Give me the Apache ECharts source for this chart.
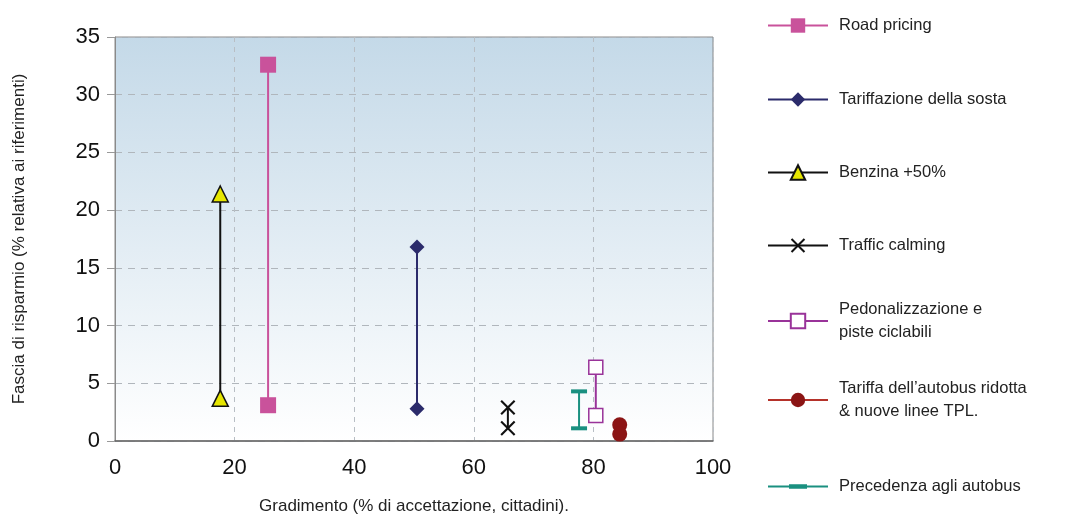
<!DOCTYPE html>
<html>
<head>
<meta charset="utf-8">
<script src="https://cdn.jsdelivr.net/npm/echarts@6/dist/echarts.min.js"></script>
<style>html,body{margin:0;padding:0;background:#fff;}#c{width:1067px;height:519px;}</style>
</head>
<body>
<div id="c"></div>
<script>
// Data (x = gradimento %, y = fascia di risparmio %)
const seriesNames = [
  'Road pricing',
  'Tariffazione della sosta',
  'Benzina +50%',
  'Traffic calming',
  'Pedonalizzazione e piste ciclabili',
  "Tariffa dell\u2019autobus ridotta & nuove linee TPL.",
  'Precedenza agli autobus'
];
const roadPricing = [[25.6, 32.6], [25.6, 3.1]];
const tariffazioneSosta = [[50.5, 16.8], [50.5, 2.8]];
const benzina = [[17.6, 21.4], [17.6, 3.7]];
const trafficCalming = [[65.7, 2.9], [65.7, 1.1]];
const pedonalizzazione = [[80.4, 6.4], [80.4, 2.2]];
const tariffaAutobus = [[84.4, 1.4], [84.4, 0.6]];
const precedenza = [[77.6, 4.3], [77.6, 1.1]];
const xTicks = [0, 20, 40, 60, 80, 100];
const yTicks = [0, 5, 10, 15, 20, 25, 30, 35];

const legendLabels = [
  'Road pricing',
  'Tariffazione della sosta',
  'Benzina +50%',
  'Traffic calming',
  'Pedonalizzazione e\npiste ciclabili',
  "Tariffa dell\u2019autobus ridotta\n& nuove linee TPL.",
  'Precedenza agli autobus'
];
const legendTops = [9, 83, 156, 229, 293, 372, 466];

const xPath = 'path://M0,1L1,0L5,4L9,0L10,1L6,5L10,9L9,10L5,6L1,10L0,9L4,5Z';
const busLaneIcon = 'path://M0,3.6L60,3.6L60,5.6L0,5.6Z M21,2.4L39,2.4L39,6.8L21,6.8Z';

const chart = echarts.init(document.getElementById('c'));
const font = 'Liberation Sans, Arial, sans-serif';

const legends = seriesNames.map((n, i) => ({
  data: i === 6 ? [{ name: n, icon: busLaneIcon, itemStyle: { color: '#1a9080' } }] : [n],
  left: i === 6 ? 763 : 762,
  top: legendTops[i] + (i === 6 ? 4 : 0),
  itemWidth: 60,
  itemHeight: i === 6 ? 9 : 18,
  itemGap: 0,
  selectedMode: false,
  formatter: () => legendLabels[i],
  textStyle: { fontSize: 16.5, color: '#222', fontFamily: font, lineHeight: 23, padding: [0, 0, 0, 6] }
}));

function mk(name, data, color, symbol, size, extra) {
  return Object.assign({
    name: name,
    type: 'line',
    data: data,
    symbol: symbol,
    symbolSize: size,
    lineStyle: { color: color, width: 2 },
    itemStyle: { color: color },
    z: 3
  }, extra || {});
}

chart.setOption({
  animation: false,
  backgroundColor: '#fff',
  textStyle: { fontFamily: font },
  legend: legends,
  grid: {
    left: 115, right: 354, top: 37, bottom: 78,
    outerBoundsMode: 'none',
    containLabel: false,
    show: true,
    borderColor: '#8a8a8a',
    borderWidth: 1,
    backgroundColor: {
      type: 'linear', x: 0, y: 0, x2: 0, y2: 1,
      colorStops: [{ offset: 0, color: '#c4d9e8' }, { offset: 1, color: '#ffffff' }]
    }
  },
  xAxis: {
    type: 'value', min: xTicks[0], max: xTicks[xTicks.length - 1], interval: 20,
    name: 'Gradimento (% di accettazione, cittadini).',
    nameLocation: 'middle', nameGap: 57,
    nameTextStyle: { fontSize: 17, color: '#222' },
    axisLine: { show: true, lineStyle: { color: '#666', width: 1.5 } },
    axisTick: { show: false },
    axisLabel: { fontSize: 22, color: '#111', margin: 16 },
    splitLine: { show: true, lineStyle: { color: '#b8bec4', type: [5, 5], width: 1 } }
  },
  yAxis: {
    type: 'value', min: yTicks[0], max: yTicks[yTicks.length - 1], interval: 5,
    name: 'Fascia di risparmio (% relativa ai riferimenti)',
    nameLocation: 'middle', nameGap: 87, nameRotate: 90,
    nameTextStyle: { fontSize: 17, color: '#222' },
    axisLine: { show: true, lineStyle: { color: '#8a8a8a' } },
    axisTick: { show: true, length: 8, lineStyle: { color: '#999' } },
    axisLabel: { fontSize: 22, color: '#111', margin: 15 },
    splitLine: { show: true, lineStyle: { color: '#b0b6bc', type: [7, 6], width: 1 } }
  },
  series: [
    mk(seriesNames[0], roadPricing, '#c9529b', 'rect', 16),
    mk(seriesNames[1], tariffazioneSosta, '#2b2b6b', 'diamond', 15),
    mk(seriesNames[2], benzina, '#111', 'triangle', 16, {
      itemStyle: { color: '#e6e600', borderColor: '#111', borderWidth: 1.5 }
    }),
    mk(seriesNames[3], trafficCalming, '#111', xPath, 15),
    mk(seriesNames[4], pedonalizzazione, '#993399', 'rect', 14, {
      itemStyle: { color: '#ffffff', borderColor: '#993399', borderWidth: 1.5 }
    }),
    mk(seriesNames[5], tariffaAutobus, '#8b1515', 'circle', 15, {
      lineStyle: { color: '#b5322a', width: 2 }
    }),
    mk(seriesNames[6], precedenza, '#1a9080', 'rect', [16, 4])
  ]
});
</script>
</body>
</html>
